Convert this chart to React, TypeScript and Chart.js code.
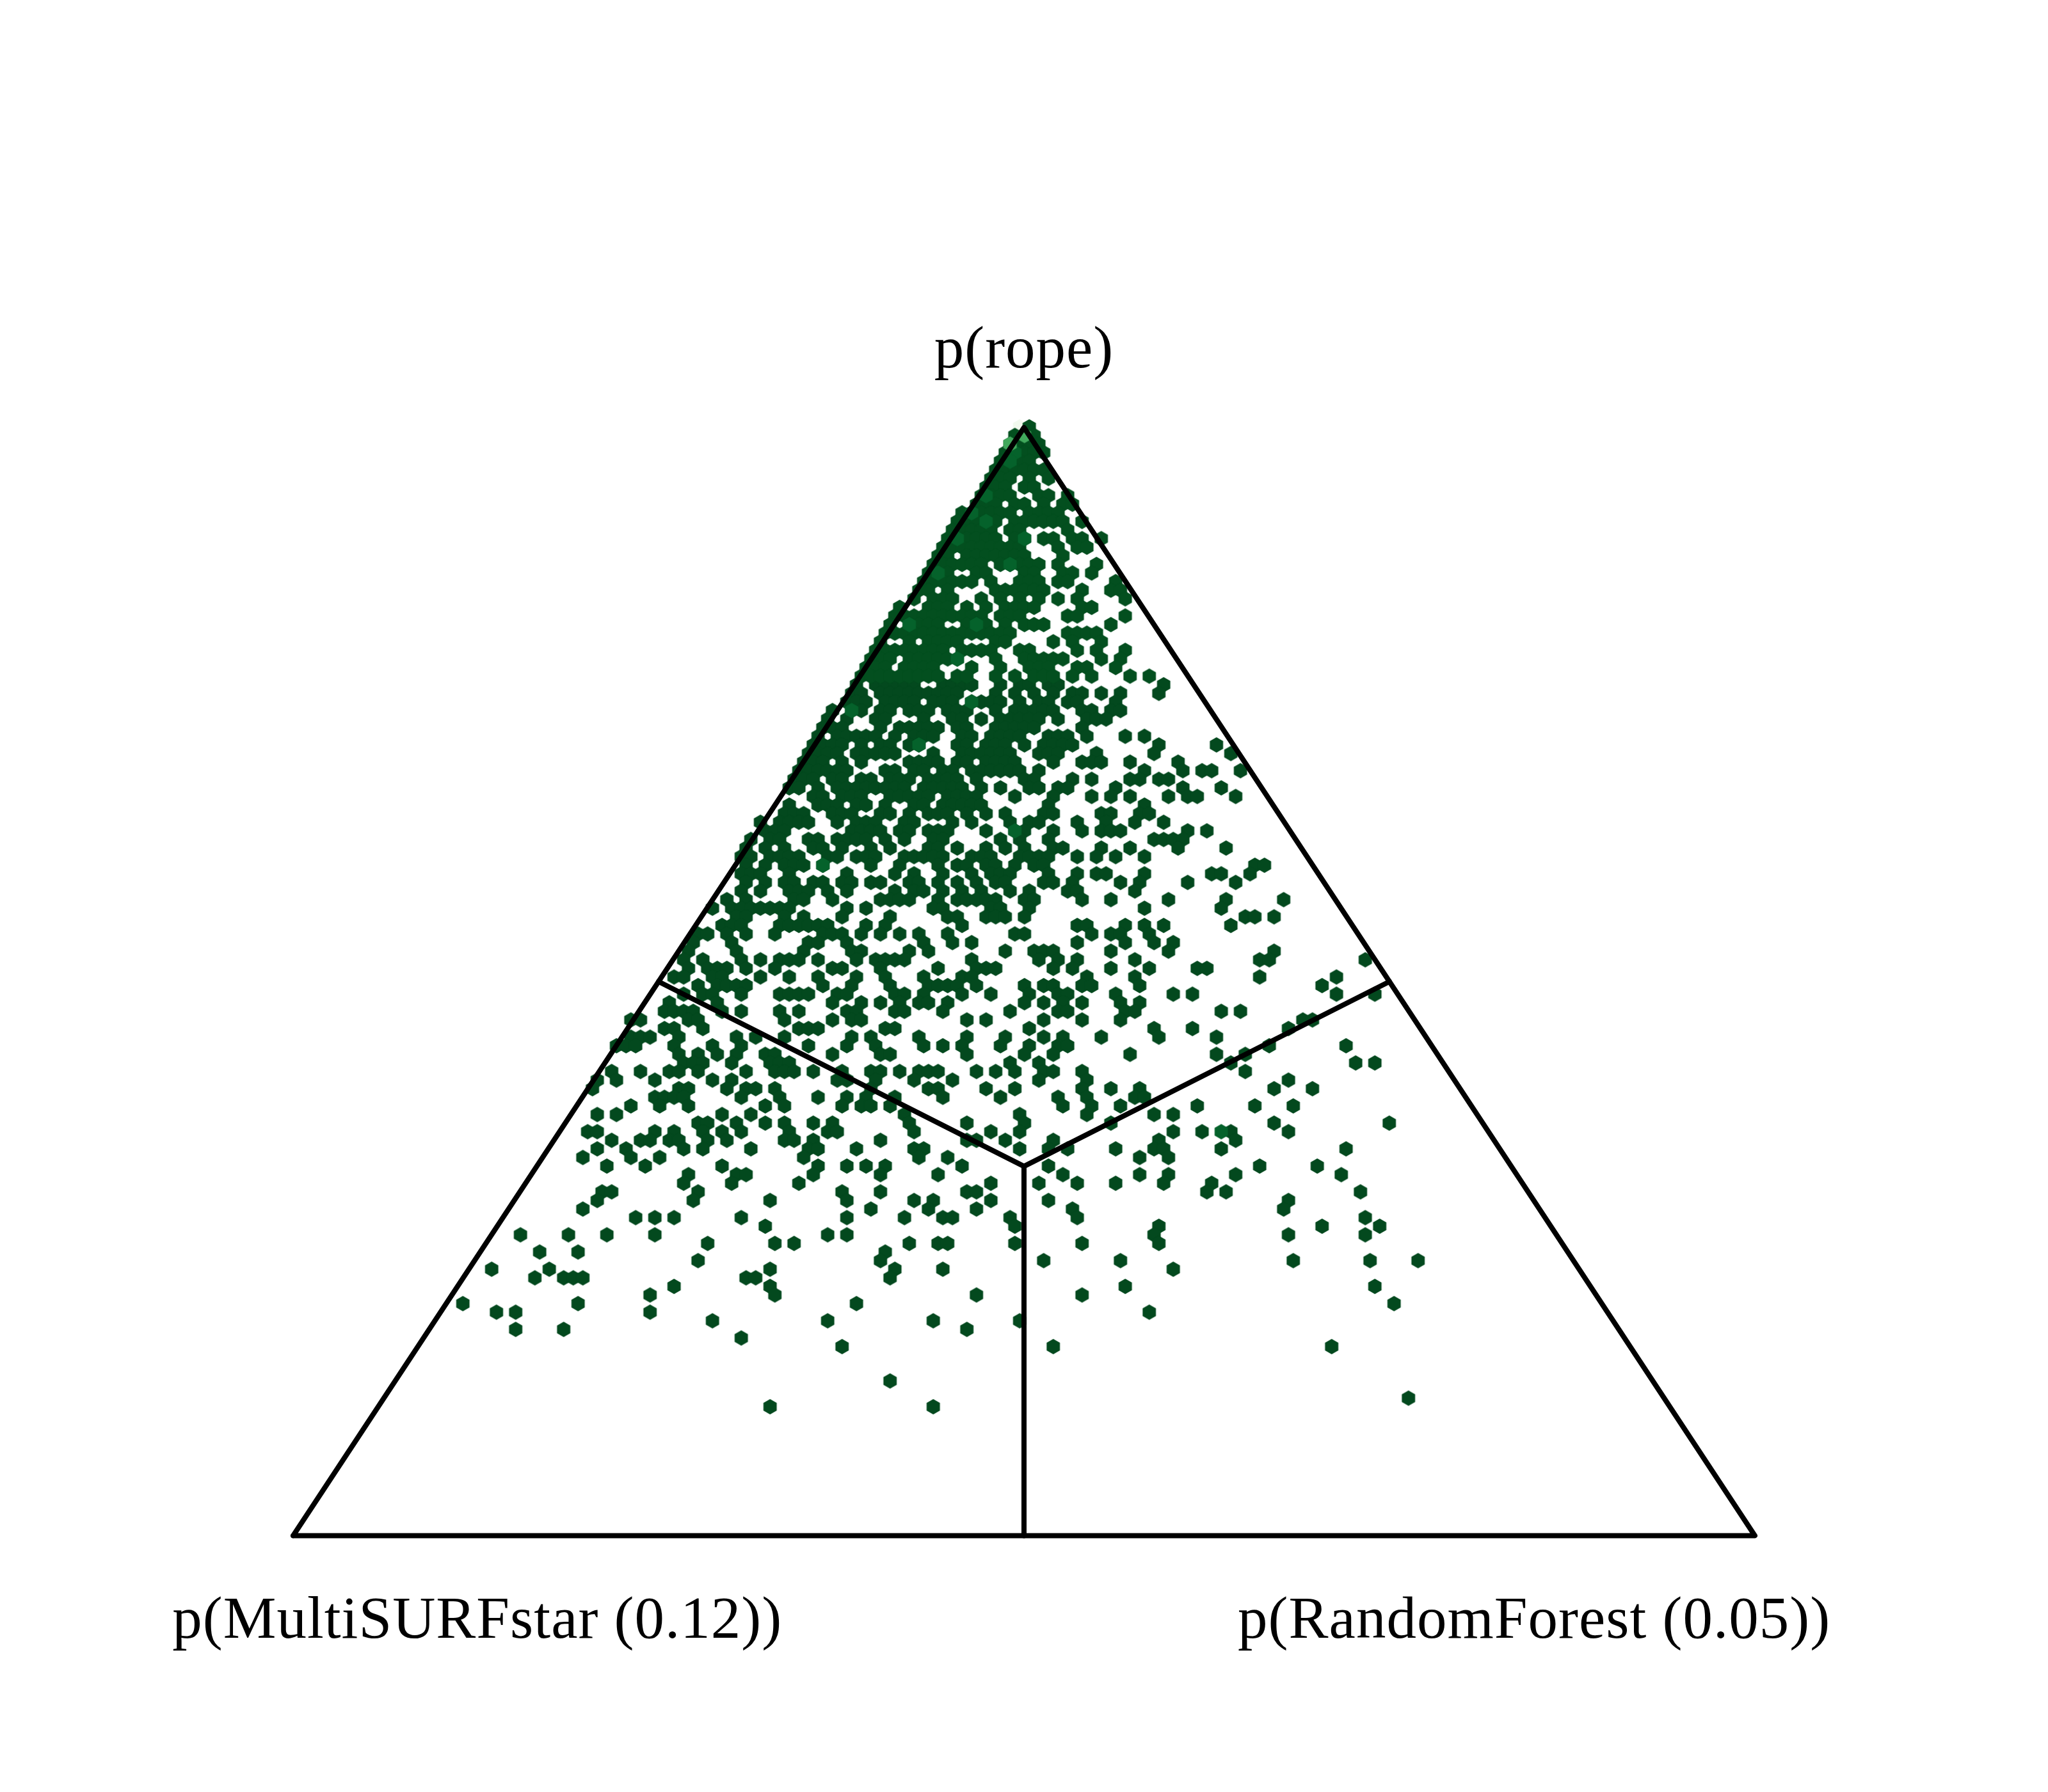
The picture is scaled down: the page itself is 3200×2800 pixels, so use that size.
import React, { useEffect, useRef } from "react";
import { Chart, registerables } from "chart.js";

Chart.register(...registerables);

// Hexbin columns per row, row index = position in the concatenated list (top of triangle = row 0)
const apexRows: number[][] = [
  [0],
  [-3, -1, 1],
  [-4, -2, 0, 2],
  [-5, -3, -1, 1, 3],
  [-6, -4, -2, 0],
  [-7, -5, -3, -1, 1, 3],
  [-8, -6, -4, 0, 4],
  [-9, -7, -5, -1, 1],
  [-10, -8, -6, -4, 2, 4, 8],
  [-11, -9, -7, -3, -1, 3, 7, 9],
  [-14, -12, -10, -8, -6, -4, 0, 2, 4, 6],
  [-15, -13, -11, -9, -7, -3, -1, 1, 3, 5, 7, 11],
  [-16, -14, -12, -10, -8, -4, -2, 8],
  [-17, -15, -13, -11, -9, -7, -3, -1, 3, 5, 9, 11, 15],
  [-18, -16, -14, -12, -10, -8, -6, -4, -2, 6, 10, 12],
  [-19, -17, -13, -11, -9, -7, -5, -3, -1, 7],
  [-20, -18, -16, -14, -12, -10, -6, -4, -2, 0, 2, 6, 14],
  [-21, -19, -17, -11, -9, -1, 1, 7, 9, 13],
  [-22, -20, -18, -16, -14, -12, -8, -2, 0, 2, 6, 8, 18],
  [-23, -21, -17, -7, -5, -3, -1, 1, 3, 11, 17, 19],
  [-24, -20, -18, -16, -10, -6, -2, 2, 6, 10, 20],
  [-27, -21, -19, -17, -13, -9, -5, -3, -1, 1, 11, 13],
  [-28, -26, -24, -22, -20, -18, -16, -14, -12, -10, -6, -4, -2, 8, 10, 20],
  [-29, -25, -23, -21, -19, -13, -11, -9, -5, -1, 1, 3, 17],
  [-30, -28, -26, -24, -22, -20, -18, -16, -14, -12, -10, -8, -6, -4, 8, 10, 12, 14],
  [-31, -25, -21, -19, -17, -15, -7, -5, 5, 9, 15],
  [-32, -30, -28, -26, -24, -22, -20, -18, -14, -12, -10, -8, -2, 0, 10, 14, 20],
  [-33, -31, -29, -25, -23, -21, -19, -17, -15, -7, -1, 1, 3, 5, 7, 15, 19],
  [-34, -32, -30, -26, -24, -22, -20, -12, -6, 0, 2, 4, 10, 12, 18],
  [-35, -33, -31, -29, -27, -25, -23, -21, -19, -15, -13, -7, -3, 1, 3, 5, 9, 13, 21, 25],
];

const upperRows: number[][] = [
  [-36, -32, -30, -28, -26, -24, -18, -16, -14, -12, -6, -2, 0, 4, 6, 28],
  [-37, -35, -31, -29, -27, -25, -23, -21, -19, -17, -15, -7, -3, 1, 5, 9, 11, 15, 19, 27],
  [-38, -36, -34, -30, -28, -26, -24, -20, -18, -16, -12, -10, -8, -6, -2, 2, 4, 8, 10, 18],
  [-41, -37, -35, -31, -29, -25, -23, -21, -17, -15, -13, -7, -3, -1, 1, 3, 5, 11, 13, 17, 19],
  [-42, -38, -32, -30, -22, -16, -14, -10, -6, -4, -2, 0, 2, 6, 12, 14, 16],
  [-43, -41, -39, -31, -27, -25, -23, -21, -19, -15, -13, -7, -5, -3, -1, 1, 11],
  [-44, -40, -38, -36, -34, -32, -28, -24, -22, -20, -14, -12, -8, -6, -4, -2, 4, 6, 8, 12, 20, 24],
  [-45, -43, -41, -39, -35, -31, -29, -25, -23, -15, -13, -9, -7, -5, -1, 3, 5, 7, 9, 27, 39],
  [-46, -44, -42, -40, -36, -34, -32, -30, -28, -20, -14, -12, -10, -8, -6, -4, 2, 4, 6, 14, 26, 42],
  [-47, -45, -43, -39, -35, -25, -23, -21, -19, -15, -13, -9, -7, -5, -3, 5, 11, 13, 15, 21, 31],
  [-48, -46, -44, -42, -40, -38, -30, -28, -24, -22, -18, -16, -12, -10, -8, -6, -4, -2, 2, 24, 32, 36, 38, 44],
  [-49, -47, -45, -41, -39, -35, -33, -29, -27, -25, -21, -19, -17, -15, -11, -1, 1, 9, 13, 21, 23, 27, 29],
  [-50, -48, -44, -40, -38, -36, -34, -32, -30, -28, -26, -22, -20, -18, -16, -14, -10, -6, 0, 2, 6, 8, 18, 32, 40],
  [-45, -43, -39, -37, -35, -29, -27, -25, -23, -21, -17, -15, -13, -11, -3, 5, 13, 17, 21, 29, 33, 35, 43],
  [-50, -44, -42, -40, -36, -34, -30, -24, -22, -18, -16, -14, -12, -10, 4, 24],
  [-51, -49, -47, -41, -39, -37, -31, -29, -25, -21, -19, -17, -13, -9, -5, 3, 5, 15, 17, 23, 25],
  [-56, -52, -50, -48, -46, -40, -36, -34, -32, -26, -24, -16, -12, -4, 0, 2, 10, 16, 22, 28],
  [-55, -53, -51, -37, -35, -33, -31, -27, -25, -21, -19, -17, -9, -3, -1, 5, 11, 15, 17, 19, 33, 37],
  [-58, -54, -52, -46, -44, -40, -38, -36, -34, -30, -26, -20, -18, -6, -2, 4, 26, 28, 30, 32],
  [-59, -55, -51, -45, -43, -39, -33, -29, -21, -19, -15, -9, -5, -1, 5, 7, 15, 21, 31, 41],
  [-60, -58, -54, -52, -50, -48, -42, -40, -36, -34, -32, -26, -24, -22, -20, -18, -12, -10, -8, -2, 0, 2, 4, 10, 14, 18, 24],
  [-59, -55, -51, -49, -47, -43, -33, -27, -19, -15, -13, -9, -7, -3, 1, 3, 47, 49],
  [-60, -58, -56, -50, -38, -28, -24, -18, -12, -8, -6, -4, 4, 10, 14, 16, 24, 38, 40, 46],
  [-59, -55, -51, -49, -45, -43, -39, -37, -33, -31, -25, -23, -19, -15, -11, -7, -5, 3, 5, 9, 19, 23, 33, 43],
  [-60, -56, -50, -48, -46, -42, -38, -28, -24, -22, -18, -14, -10, -4, 0, 8, 10, 22],
];

const middleRows: number[][] = [
  [-63, -59, -49, -47, -41, -31, -29, -27, -25, -19, -15, -13, -11, -9, -7, -1, 1, 11, 17, 29, 41, 53],
  [-66, -62, -60, -58, -56, -54, -52, -50, -38, -34, -20, -18, -8, -6, 0, 24, 40],
  [-61, -59, -51, -47, -39, -29, -17, -15, -9, -7, -5, -1, 45, 47, 51],
  [-64, -62, -60, -52, -50, -48, -46, -44, -42, -34, -30, -14, 10, 12, 20, 24, 28, 42],
  [-69, -67, -63, -59, -53, -43, -41, -39, -35, -31, -27, -23, -17, -3, -1, 13, 17, 19, 25],
  [-70, -62, -46, -44, -38, -22, -16, -12, 10, 20, 26, 30],
  [-71, -61, -47, -37, -35, -25, -21, -5, 1, 3, 5, 17, 29, 51],
  [-72, -68, -60, -56, -52, -50, -48, -44, -36, -32, -30, -28, -26, -12, 2, 6, 10, 22, 48, 50, 70],
  [-71, -67, -65, -63, -59, -53, -41, -39, -31, -19, -11, -9, -7, 5, 9, 17, 25, 35, 37],
  [-74, -72, -66, -64, -56, -50, -44, -36, -30, -22, -14, -12, 12, 22, 48, 64],
  [-69, -65, -63, -61, -59, -43, -37, -29, -21, -19, -17, -15, -11, -1, 3, 5, 11, 13, 23, 61],
  [-72, -68, -66, -60, -52, -50, -48, -46, -40, -38, -28, -26, -22, -14, -8, 0, 6, 8, 18, 30, 34, 64, 72],
  [-75, -65, -41, -35, -31, -27, -23, -21, -17, -1, 3, 7, 11, 19, 23],
  [-76, -74, -72, -70, -64, -60, -52, -48, -38, -36, -28, -26, -18, -4, 6, 8, 20, 22, 40, 44],
  [-83, -81, -71, -69, -51, -41, -37, -35, -13, -9, 3, 11, 19, 57, 59],
  [-76, -74, -68, -48, -46, -44, -30, -28, 0, 26, 34, 54],
  [-83, -81, -79, -73, -61, -57, -51, -37, -33, -23, -13, -5, 3, 7, 15, 27, 39],
  [-86, -84, -82, -74, -66, -60, -46, -38, -32, -22, -18, -14, -6, 0, 6, 8, 50, 66],
  [-73, -69, -65, -61, -55, -53, -41, -31, -29, -13, -1, 5, 21, 39, 45],
  [-72, -70, -68, -62, -54, -52, -50, -4, 2, 42, 68, 72],
];

const lowerRows: number[][] = [
  [-87, -81, -75, -73, -69, -59, -53, -51, -49, -45, -39, -33, -31, -27, -23, -21, -19, -11, -7, -3, 3, 5, 11, 45],
  [-90, -86, -78, -66, -62, -40, -38, -32, -24, -16, 2, 12, 54],
  [-91, -73, -71, -63, -59, -57, -53, -33, -21, -19, -9, -3, 11, 17, 23, 51, 59],
  [-78, -76, -74, -72, -60, -52, -44, -38, -34, -28, -18, -6, 6, 12, 22, 24],
  [-83, -77, -71, -55, -51, -39, -35, -33, -29, 7, 13, 19, 35, 47, 55],
  [-90, -86, -64, -58, -26, -2, 12, 26, 30],
  [-69, -67, -61, -55, -51, -45, -41, -25, -13, -1, 17, 51, 75],
  [-92, -90, -78, -74, -68, -64, -60, -50, -42, -40, -24, -8, -2, 30, 36, 42, 54],
  [-87, -81, -79, -75, -73, -67, -63, -51, -49, -45, -31, -13, -11, -5, 5, 27, 43],
  [-90, -84, -72, -68, -58, -46, -44, -36, -24, -22, -2, 4, 8, 18, 26, 28, 40, 66],
  [-93, -83, -77, -47, -23, -17, 23, 29],
  [-88, -80, -64, -44, -38, -34, -30, -14, 4, 48, 60],
  [-71, -61, -59, -45, -31, -19, 7, 23, 29, 43, 65],
  [-72, -62, -48, -8, 2, 10, 18, 28, 38],
  [-89, -87, -69, -39, -31, -13, -11, 37, 41, 69],
  [-90, -70, -54, -38, -24, -20, -8, 4, 54],
  [-93, -33, -21, -11, 9, 53],
  [-82, -78, -74, -60, -38, -26, -18, -16, -4, 10, 70],
  [-55, -3, 27, 61, 73],
  [-106, -96, -88, -78, -42, -38, 26, 54, 70],
  [-67, -53, -49, -25, -19, -17, -3, 11, 27],
  [-102, -94, -30],
  [-69, -31, 3, 19, 55, 71, 81],
  [-112, -100, -54, -28, -18, 30],
  [-103, -97, -95, -93, -59, -57, -29],
  [-74, -54, 20, 72],
  [-79, -53, -11, 11],
  [-118, -94, -36, 76],
  [-111, -107, -79, 25],
  [-66, -42, -20, -2],
  [-107, -97, -13],
  [-60],
  [-39, 5, 63],
  [],
  [],
  [],
  [-29],
  [],
  [79],
  [-54, -20],
];

// Bins with a higher count: [row, column]
const crowdedBins: number[][] = [
  [3, -3], [4, -4], [8, -9], [11, -9], [16, -4], [13, -1], [13, -15], [17, -19], [23, -11], [23, -25],
  [10, -12], [27, -15], [33, -37], [32, -12], [37, -23], [47, -3], [51, -43], [82, 40],
];
const peakBins: number[][] = [[1, -1], [2, -4]];
const faintBins: number[][] = [[0, -2]];

const triangleX = [0, 0.5, 1, 0];
const triangleY = [0, 1, 0, 0];
const splitterX = [0.25, 0.5, 0.75];
const splitterY = [0.5, 1 / 3, 0.5];
const stemX = [0.5, 0.5];
const stemY = [1 / 3, 0];

const labelTexts = ["p(rope)", "p(MultiSURFstar (0.12))", "p(RandomForest (0.05))"];
const labelXs = [0.5, 0.126, 0.849];
const labelYs = [1.0545, -0.0921, -0.0921];

const LEFT = 458;
const SPAN_X = 2284;
const BASE = 2399.5;
const SPAN_Y = 1731.5;
const COL_W = 7.5;
const ROW_H = 13.43;
const ORIGIN_X = 8.2;
const ORIGIN_Y = 667;

const binX = (c: number) => 0.5 + (c * COL_W + ORIGIN_X) / SPAN_X;
const binY = (r: number) => (BASE - (ORIGIN_Y + r * ROW_H)) / SPAN_Y;

function hexImage(color: string) {
  const w = 20.8;
  const h = 24;
  const cv = document.createElement("canvas");
  cv.width = 26;
  cv.height = 28;
  const g = cv.getContext("2d")!;
  const cx = 13;
  const cy = 14;
  g.fillStyle = color;
  g.beginPath();
  g.moveTo(cx, cy - h / 2);
  g.lineTo(cx + w / 2, cy - h / 4);
  g.lineTo(cx + w / 2, cy + h / 4);
  g.lineTo(cx, cy + h / 2);
  g.lineTo(cx - w / 2, cy + h / 4);
  g.lineTo(cx - w / 2, cy - h / 4);
  g.closePath();
  g.fill();
  return cv;
}

const labelPlugin = {
  id: "cornerLabels",
  afterDraw(chart: any) {
    const { ctx, scales } = chart;
    ctx.save();
    ctx.fillStyle = "#000";
    ctx.font = '93px "Liberation Serif"';
    ctx.letterSpacing = "1px";
    ctx.textAlign = "center";
    ctx.textBaseline = "alphabetic";
    labelTexts.forEach((t, i) => {
      ctx.fillText(t, scales.x.getPixelForValue(labelXs[i]), scales.y.getPixelForValue(labelYs[i]));
    });
    ctx.restore();
  },
};

export default function App() {
  const ref = useRef<HTMLCanvasElement>(null);
  useEffect(() => {
    document.body.style.margin = "0";
    const allRows = [...apexRows, ...upperRows, ...middleRows, ...lowerRows];
    const toPts = (list: number[][]) => list.map(([r, c]) => ({ x: binX(c), y: binY(r) }));
    const upperPts: any[] = [];
    const lowerPts: any[] = [];
    allRows.forEach((cols, r) =>
      cols.forEach((c) => (r < 30 ? upperPts : lowerPts).push({ x: binX(c), y: binY(r) }))
    );
    const hexDataset = (data: any[], color: string, order: number) => ({
      type: "scatter",
      data,
      pointStyle: hexImage(color),
      pointRadius: 12,
      showLine: false,
      order,
      clip: false,
    });
    const lineDataset = (xs: number[], ys: number[]) => ({
      type: "line",
      data: xs.map((x, i) => ({ x, y: ys[i] })),
      borderColor: "#000",
      borderWidth: 8,
      borderCapStyle: "round",
      borderJoinStyle: "round",
      pointRadius: 0,
      tension: 0,
      fill: false,
      order: 0,
      clip: false,
    });
    const chart = new Chart(ref.current!, {
      data: {
        datasets: [
          lineDataset(triangleX, triangleY),
          lineDataset(splitterX, splitterY),
          lineDataset(stemX, stemY),
          hexDataset(toPts(peakBins), "#41a85c", 1),
          hexDataset(toPts(crowdedBins), "#05622b", 2),
          hexDataset(upperPts, "#034f1f", 3),
          hexDataset(lowerPts, "#03491e", 4),
          hexDataset(toPts(faintBins), "#f1f9ee", 5),
        ] as any,
      },
      options: {
        animation: false,
        responsive: false,
        devicePixelRatio: 1,
        parsing: false,
        normalized: true,
        layout: { padding: 0, autoPadding: false },
        plugins: { legend: { display: false }, tooltip: { enabled: false } },
        events: [],
        scales: {
          x: { type: "linear", display: false, min: -LEFT / SPAN_X, max: (3200 - LEFT) / SPAN_X },
          y: { type: "linear", display: false, min: (BASE - 2800) / SPAN_Y, max: BASE / SPAN_Y },
        },
      } as any,
      plugins: [labelPlugin],
    });
    return () => chart.destroy();
  }, []);
  return <canvas ref={ref} width={3200} height={2800} style={{ display: "block", background: "#fff" }} />;
}
